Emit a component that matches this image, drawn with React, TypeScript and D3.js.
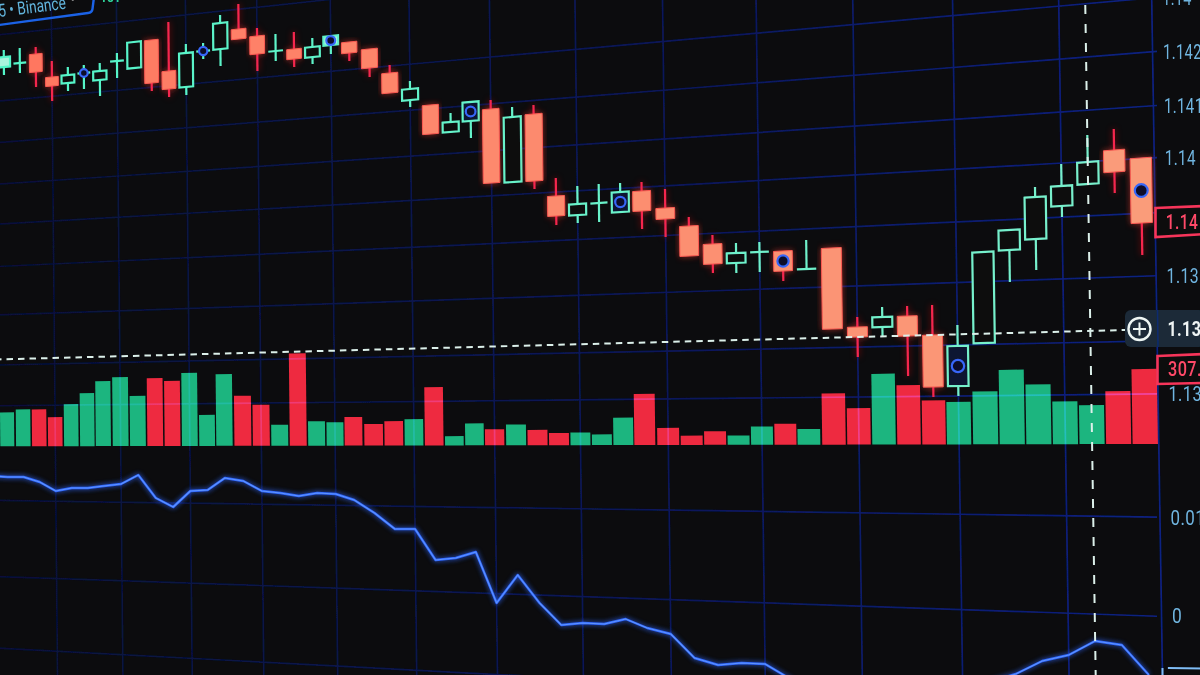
import React from "react";
import * as d3 from "d3";

// Candles, in price ticks relative to 1.1400 (index 0 is the leftmost visible session)
const opens = [90,94,103,80,74,84,77,96,89,117,86,70,106,108,128,121,106,108,100,112,115,108,84,57,52,25,36,48,-25,43,-39,-58,-46,-55,-34,-51,-69,-87,-106,-95,-94,-112,-91,-170,-170,-159,-178,-229,-186,-93,-82,-49,-27,7,-1];
const closes = [100,94,85,71,82,84,86,96,115,74,68,104,106,134,118,103,106,98,110,121,104,89,64,68,23,35,55,-26,40,-24,-59,-47,-46,-35,-54,-62,-99,-107,-96,-95,-114,-112,-172,-180,-160,-179,-230,-189,-95,-73,-40,-29,-5,-15,-66];
const highs = [107,109,110,96,90,92,94,104,115,117,135,113,114,142,153,129,123,125,119,122,115,108,92,76,52,44,55,57,50,52,-21,-29,-27,-26,-25,-32,-60,-78,-86,-85,-94,-83,-91,-160,-150,-149,-148,-168,-95,-73,-30,-7,22,28,-1];
const lows = [82,84,70,56,66,68,61,79,89,66,60,62,98,91,118,86,96,90,93,103,96,80,64,50,23,25,19,-26,-25,-32,-68,-66,-65,-55,-72,-80,-99,-116,-116,-115,-124,-112,-172,-200,-180,-219,-240,-239,-186,-125,-113,-60,-27,-36,-98];
const markerSessions = [5,12,19,26,33,40,47,54];
const solidUpSessions = [0,19];

const volumes = [139,151,151,119,172,217,266,282,205,278,266,299,127,294,205,168,86,378,100,96,117,88,100,108,239,38,90,66,85,63,50,52,44,112,209,70,38,56,38,75,86,64,210,149,290,243,180,174,217,305,245,175,160,217,307];

// Oscillator, one value per session starting one session before the first candle; 98 units = 0.01
const oscillator = [140,139,139,134,125,128,128,130,132,141,118,109,125,126,138,135,125,123,120,123,122,116,103,87,87,56,58,64,13,41,13,-9,-7,-8,-3,-12,-18,-42,-49,-47,-48,-62,-79,-89,-96,-99,-96,-89,-79,-66,-58,-45,-39,-25,-29,-59];

const priceGridTicks = [245,159,105,51,-1,-56,-119,-184,-237,-360,-459,-552];
const timeGridSessions = [3,7,11,15,19,23,27,31,35,39,43,47,51];
const priceLabels = ["1.142","1.141","1.14","1.13","1.13"];
const priceLabelTicks = [105,51,-1,-119,-237];
const topLabel = "1.14";
const oscLabels = ["0.01","0"];
const oscLabelValues = [98,0];
const lastPriceLabel = "1.14";
const lastPriceTick = -65;
const crossPriceLabel = "1.13";
const crossPriceTick = -172;
const crossSession = 52;
const volumeLabel = "307.";

// Screen perspective of the photographed monitor
const K = 0.00026;
const REF_X = 1150;
const HORIZON = 445;
const AXIS_FONT = "Roboto, 'Open Sans', sans-serif";
const BG = "#0c0c0e";

const sessionX = d3
  .scaleLinear()
  .domain([-1, 0, 6, 13, 20, 27, 34, 41, 47, 54, 55])
  .range([-9, 6, 102, 223, 352, 493, 643, 807, 957, 1143, 1170]);
const priceY = d3.scaleLinear().domain([0, 53]).range([157, 104]);
const oscY = d3.scaleLinear().domain([0, 98]).range([616, 518]);
const volH = d3.scaleLinear().domain([0, 307]).range([0, 75]);
const bodyColor = d3.scaleLinear<string>().domain([0, 54]).range(["#ff7660", "#fa9c7a"]);
const hollowColor = d3.scaleLinear<string>().domain([0, 54]).range(["#52f5c8", "#7af0cc"]);
const labelSquash = d3.scaleLinear().domain([50, 620]).range([0.72, 0.85]);

const shearAt = (x: number) => 0.009 + x * 0.000006;
const warpX = (x: number, y: number) => x + shearAt(x) * (y - 300);
const levelAt = (x: number, yRight: number) =>
  HORIZON + ((yRight - HORIZON) * (1 + K * x)) / (1 + K * REF_X);
const baseline = (x: number) => 446.3 - 0.002 * x;

function quad(cx: number, w: number, top: number, bot: number) {
  const slope = (y: number) => K * (y - HORIZON);
  const p = d3.path();
  const l = cx - w / 2;
  const r = cx + w / 2;
  const tl = top - (w / 2) * slope(top);
  const tr = top + (w / 2) * slope(top);
  const bl = bot - (w / 2) * slope(bot);
  const br = bot + (w / 2) * slope(bot);
  p.moveTo(warpX(l, tl), tl);
  p.lineTo(warpX(r, tr), tr);
  p.lineTo(warpX(r, br), br);
  p.lineTo(warpX(l, bl), bl);
  p.closePath();
  return p.toString();
}

const stepAt = (i: number) => sessionX(i + 0.5) - sessionX(i - 0.5);
const seg = d3.line<[number, number]>();

function horizontal(yRight: number, x0 = -5, x1 = 1157) {
  return seg(d3.range(0, 11).map((i) => {
    const x = x0 + ((x1 - x0) * i) / 10;
    return [x, levelAt(x, yRight)] as [number, number];
  }));
}
function vertical(session: number, y0 = -5, y1 = 680) {
  const x = sessionX(session);
  return seg([[warpX(x, y0), y0], [warpX(x, y1), y1]]);
}

function AxisText({ label, y, x = 1163, fill = "#70b5e0", weight = 400 }: { label: string; y: number; x?: number; fill?: string; weight?: number }) {
  const s = labelSquash(y);
  return (
    <text
      transform={`translate(${x + shearAt(x) * (y - 50)} ${y}) scale(${s} 1)`}
      dominantBaseline="central"
      fontFamily={AXIS_FONT}
      fontSize={20.5}
      fontWeight={weight}
      fill={fill}
      letterSpacing={0.5}
    >
      {label}
    </text>
  );
}

export default function App() {
  const crossY = priceY(crossPriceTick);
  const lastY = priceY(lastPriceTick);
  const oscPath = d3
    .line<number>()
    .x((v, i) => warpX(sessionX(i - 1), oscY(v)))
    .y((v) => oscY(v))(oscillator);

  return (
    <svg
      width={1200}
      height={675}
      viewBox="0 0 1200 675"
      style={{ position: "fixed", left: 0, top: 0, background: BG }}
    >
      <defs>
        <linearGradient id="gridInk" gradientUnits="userSpaceOnUse" x1="0" y1="0" x2="1160" y2="0">
          <stop offset="0" stopColor="#07113a" />
          <stop offset="0.6" stopColor="#09185c" />
          <stop offset="1" stopColor="#0b2182" />
        </linearGradient>
        <filter id="soft" x="-2%" y="-2%" width="104%" height="104%">
          <feGaussianBlur stdDeviation="0.45" />
        </filter>
        <filter id="glowRed" x="-20%" y="-20%" width="140%" height="140%">
          <feGaussianBlur in="SourceGraphic" stdDeviation="3" result="b" />
          <feColorMatrix in="b" type="matrix" values="1 0 0 0 0.5  0 0.2 0 0 0  0 0 0.2 0 0  0 0 0 0.55 0" result="c" />
          <feMerge>
            <feMergeNode in="c" />
            <feMergeNode in="SourceGraphic" />
          </feMerge>
        </filter>
        <filter id="glowBlue" x="-5%" y="-10%" width="110%" height="120%">
          <feGaussianBlur in="SourceGraphic" stdDeviation="2.4" result="b" />
          <feMerge>
            <feMergeNode in="b" />
            <feMergeNode in="SourceGraphic" />
          </feMerge>
        </filter>
      </defs>
      <g filter="url(#soft)">
        {/* volume */}
        {volumes.map((v, i) => {
          const cx = sessionX(i);
          const b = baseline(cx);
          const up = closes[i] >= opens[i];
          return (
            <path
              key={i}
              d={quad(cx, stepAt(i) - 1.5, b - volH(v), b)}
              fill={up ? "#1bb57f" : "#ee2a3f"}
            />
          );
        })}

        {/* grid */}
        <g fill="none" stroke="url(#gridInk)" strokeWidth={1.7} style={{ mixBlendMode: "screen" }}>
          {priceGridTicks.map((t) => (
            <path key={t} d={horizontal(priceY(t)) ?? ""} />
          ))}
          {timeGridSessions.map((s) => (
            <path key={s} d={vertical(s) ?? ""} />
          ))}
          <path d={vertical(54.5) ?? ""} />
        </g>

        {/* oscillator */}
        <path d={oscPath ?? ""} fill="none" stroke="#2f66ff" strokeWidth={2.4} strokeLinejoin="round" filter="url(#glowBlue)" />
        <path d={oscPath ?? ""} fill="none" stroke="#5f95ff" strokeWidth={1.1} strokeLinejoin="round" />
        <path
          d={seg([[warpX(1162, 668), 668], [1205, 668.5]]) ?? ""}
          fill="none"
          stroke="#7fbcf5"
          strokeWidth={2}
        />
        <path d={seg([[1162.5, 668], [1162.5, 680]]) ?? ""} fill="none" stroke="#7fbcf5" strokeWidth={2} />

        {/* candles */}
        <g>
          {opens.map((o, i) => {
            const c = closes[i];
            const cx = sessionX(i);
            const w = stepAt(i) * 0.8;
            const up = c >= o;
            const doji = o === c;
            const top = priceY(Math.max(o, c));
            const bot = priceY(Math.min(o, c));
            const hi = priceY(highs[i]);
            const lo = priceY(lows[i]);
            const wick = up || doji ? hollowColor(i) : "#f6284e";
            const marker = markerSessions.includes(i);
            const midY = (top + bot) / 2;
            const wickLine = seg([[warpX(cx, hi), hi], [warpX(cx, top), top]]);
            const wickLow = seg([[warpX(cx, bot), bot], [warpX(cx, lo), lo]]);
            return (
              <g key={i} filter={up || doji ? undefined : "url(#glowRed)"}>
                <path d={wickLine ?? ""} stroke={wick} strokeWidth={2.2} fill="none" />
                <path d={wickLow ?? ""} stroke={wick} strokeWidth={2.2} fill="none" />
                {doji ? (
                  <path
                    d={seg([[warpX(cx - w / 2, top), top - (w / 2) * K * (top - HORIZON)], [warpX(cx + w / 2, top), top + (w / 2) * K * (top - HORIZON)]]) ?? ""}
                    stroke={wick}
                    strokeWidth={2.2}
                    fill="none"
                  />
                ) : up ? (
                  <path
                    d={quad(cx, w, top, bot)}
                    fill={solidUpSessions.includes(i) ? "#a8f3dc" : marker ? "#0c1530" : BG}
                    stroke={wick}
                    strokeWidth={2.2}
                  />
                ) : (
                  <path d={quad(cx, w, top, bot)} fill={bodyColor(i)} stroke="#fb5a52" strokeWidth={1} />
                )}
                {marker && (
                  <circle
                    cx={warpX(cx, midY)}
                    cy={midY}
                    r={stepAt(i) * 0.24}
                    fill="#0b0f2a"
                    stroke="#3766f8"
                    strokeWidth={2.2}
                  />
                )}
              </g>
            );
          })}
        </g>

        {/* crosshair */}
        <g fill="none" stroke="#dcf0ea" strokeWidth={2}>
          <path d={seg([[-5, crossY + 30.5], [1125, crossY + 1]]) ?? ""} strokeDasharray="6.5 5" />
          <path d={vertical(crossSession, 5, 680) ?? ""} strokeDasharray="9 10" />
        </g>

        {/* top-left legend */}
        <path d="M -5 25.5 L 88 13 Q 92 12.5 92.5 9 L 94 -3" fill="none" stroke="#1a62e6" strokeWidth={2.4} />
        <text transform="translate(-1 17) rotate(-7) scale(0.76 1)" fontFamily={AXIS_FONT} fontSize={18} fill="#62b4dc">
          5 • Binance
        </text>
        <text x={71} y={4} fontFamily={AXIS_FONT} fontSize={13} fontWeight={700} fill="#e6e6e6" transform="rotate(-6 71 4)">
          •••
        </text>
        <text x={100} y={2} fontFamily={AXIS_FONT} fontSize={12} fontWeight={700} fill="#2fd39a">
          101
        </text>

        {/* right axis */}
        <AxisText label={topLabel} y={priceY(159)} />
        {priceLabels.map((l, i) => (
          <AxisText key={i} label={l} y={priceY(priceLabelTicks[i])} />
        ))}
        {oscLabels.map((l, i) => (
          <AxisText key={l} label={l} y={oscY(oscLabelValues[i])} />
        ))}

        {/* last price tag */}
        <path d={`M 1155.5 ${lastY - 14} L 1205 ${lastY - 16} L 1205 ${lastY + 12} L 1155.5 ${lastY + 15} Z`} fill="#0e0e10" stroke="#f7355a" strokeWidth={2.6} />
        <AxisText label={lastPriceLabel} y={lastY} x={1163} fill="#ff4a68" weight={500} />

        {/* volume tag */}
        <path d="M 1157.5 356 L 1205 354 L 1205 383 L 1157.5 384 Z" fill="#0e0e10" stroke="#f7355a" strokeWidth={2.6} />
        <AxisText label={volumeLabel} y={369} x={1163} fill="#ff4a68" weight={500} />

        {/* crosshair price tag */}
        <rect x={1125} y={crossY - 19} width={80} height={37} rx={6} fill="#1b2c39" />
        <path d={seg([[1157.5, crossY - 19], [1158, crossY + 18]]) ?? ""} stroke="#0e2a70" strokeWidth={1.5} />
        <circle cx={1139.5} cy={crossY} r={11} fill="none" stroke="#eef6f4" strokeWidth={2.4} />
        <path d={`M 1133 ${crossY} H 1146 M 1139.5 ${crossY - 6.5} V ${crossY + 6.5}`} stroke="#eef6f4" strokeWidth={2} />
        <AxisText label={crossPriceLabel} y={crossY} x={1163} fill="#f0f4f4" weight={700} />
      </g>
    </svg>
  );
}
